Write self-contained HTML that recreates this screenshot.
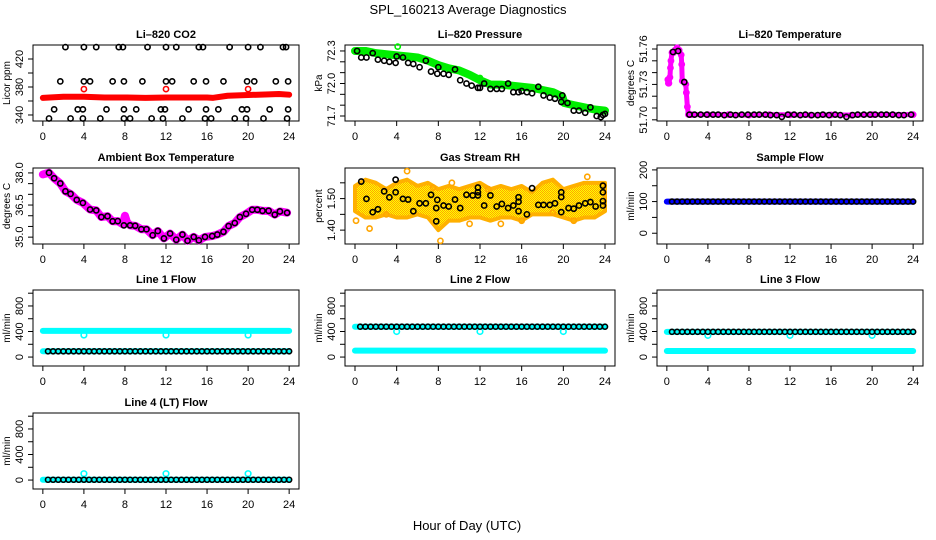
<!DOCTYPE html>
<html><head><meta charset="utf-8"><style>
html,body{margin:0;padding:0;background:#fff}
svg{display:block;font-family:"Liberation Sans",sans-serif}
</style></head><body>
<svg id="chart" width="936" height="540" viewBox="0 0 936 540" xmlns="http://www.w3.org/2000/svg">
<defs>
<pattern id="oy" width="2" height="2" patternUnits="userSpaceOnUse">
<rect width="2" height="2" fill="#ffff00"/><rect width="1" height="1" fill="#ffa500"/><rect x="1" y="1" width="1" height="1" fill="#ffa500"/>
</pattern>
</defs>
<text x="468" y="14" font-size="13" text-anchor="middle">SPL_160213  Average Diagnostics</text>
<text x="467" y="530" font-size="13" text-anchor="middle">Hour of Day (UTC)</text>
</svg>
<script>
// ---------- data ----------
const xTicks = [0,4,8,12,16,20,24];
// CO2
const co2BlackHours = [2.2,4,5.2,7.4,7.8,10.2,12,13,15.2,15.6,18.2,20,21.2,23.4,23.7,
 1.7,4,4.6,6.8,7.9,9.7,12,12.6,14.7,15.9,17.6,19.9,20.6,22.7,23.9,
 1.1,3.4,3.9,6.2,7.9,9.1,11.5,11.9,14.2,15.9,17.1,19.4,19.9,22.1,23.9,
 0.6,2.7,3.9,5.6,7.9,8.5,10.6,11.7,13.6,15.8,16.4,18.7,19.8,21.5,23.8];
const co2BlackVals = [437,437,437,437,437,437,437,437,437,437,437,437,437,437,437,
 388,388,388,388,388,388,388,388,388,388,388,388,388,388,388,
 348,348,348,348,348,348,348,348,348,348,348,348,348,348,348,
 335,335,335,335,335,335,335,335,335,335,335,335,335,335,335];
const co2RedHours = [0,2,4,6,8,10,12,14,16,16.6,18,20,22,23,24];
const co2RedVals = [364.5,366,366,365,365,364.5,365,365,365,364.5,367.5,368.5,369.5,370,369];
const co2RedSpikeHours = [4,12,20];
const co2RedSpikeVals = [377,377,377];
// Pressure
const prGreenHours = [0,1,2,3,4,5,6,7,8,9,10,11,12,13,14,15,16,17,18,19,19.9,20.1,21,22,23,24];
const prGreenVals = [72.30,72.30,72.28,72.27,72.26,72.25,72.24,72.21,72.17,72.14,72.12,72.08,72.03,71.99,71.99,71.98,71.97,71.96,71.94,71.92,71.88,71.82,71.80,71.78,71.76,71.75];
const prGreenOutHours = [4.1,12];
const prGreenOutVals = [72.34,72.05];
const prBlackHours = [0.2,0.6,1.1,1.7,2.2,2.8,3.3,3.9,4,4.6,5.1,5.6,6.2,6.8,7.3,7.9,8,8.5,9,9.6,10.1,10.7,11.2,11.8,12,12.4,13,13.6,14.1,14.7,15.2,15.7,16,16.5,17,17.6,18.1,18.7,19.2,19.8,19.9,20.4,21,21.5,22.1,22.6,23.2,23.6,23.8,24];
const prBlackVals = [72.30,72.24,72.24,72.28,72.22,72.21,72.20,72.19,72.25,72.24,72.19,72.18,72.15,72.21,72.11,72.09,72.15,72.09,72.08,72.13,72.03,72.00,71.98,71.96,71.96,72.00,71.95,71.95,71.95,72.00,71.92,71.92,71.93,71.92,71.91,71.97,71.89,71.87,71.86,71.83,71.89,71.82,71.75,71.75,71.73,71.78,71.70,71.69,71.71,71.72];
// Li-820 temperature
const tmMagHours = [0.1,0.15,0.2,0.3,0.35,0.4,0.5,0.65,0.8,1.0,1.2,1.4,1.45,1.5,1.7,1.85,1.9,2.0,2.1,2.4,4,6,8,10,12,14,16,18,20,22,24];
const tmMagVals = [51.734,51.731,51.731,51.736,51.744,51.750,51.757,51.757,51.759,51.761,51.759,51.755,51.747,51.733,51.732,51.730,51.723,51.711,51.7045,51.7044,51.7044,51.7044,51.7040,51.7044,51.7042,51.7040,51.7042,51.7040,51.7044,51.7044,51.7044];
const tmBlackHours = [0.6,1.1,1.7,2.2,2.7,3.3,3.9,4.5,5,5.6,6.2,6.7,7.3,7.9,8.5,9,9.6,10.1,10.7,11.2,11.8,12.4,13,13.5,14.1,14.7,15.2,15.8,16.4,16.9,17.5,18.1,18.6,19.2,19.8,20.3,20.9,21.4,22,22.6,23.1,23.8];
const tmBlackVals = [51.7575,51.7583,51.732,51.7044,51.7044,51.7044,51.7044,51.7044,51.7044,51.7040,51.7044,51.7040,51.7044,51.7044,51.7044,51.7044,51.7044,51.7040,51.7040,51.7025,51.7044,51.7044,51.7040,51.7044,51.7040,51.7040,51.7044,51.7040,51.7044,51.7040,51.7025,51.7040,51.7044,51.7044,51.7044,51.7044,51.7044,51.7044,51.7044,51.7040,51.7040,51.7044];
// Ambient box temperature
const abHours = [0.6,1.1,1.7,2.2,2.7,3.3,3.9,4.6,5.2,5.7,6.3,6.8,7.3,7.9,8.5,9,9.6,10.1,10.7,11.2,11.8,12.4,13,13.6,14.1,14.7,15.2,15.8,16.5,17,17.6,18.1,18.7,19.2,19.8,20.4,20.9,21.4,22,22.6,23.1,23.8];
const abVals = [38.01,37.75,37.51,37.14,37.02,36.74,36.60,36.29,36.25,35.94,35.98,35.74,35.75,35.55,35.55,35.53,35.37,35.37,35.09,35.29,34.94,35.17,34.88,35.12,34.83,35.01,34.85,35.01,35.05,35.12,35.25,35.52,35.66,35.94,36.09,36.28,36.28,36.23,36.23,36.05,36.20,36.14];
const abMagHours = [0,0.6,1.1,1.7,2.2,2.7,3.3,3.9,4.6,5.2,5.7,6.3,6.8,7.3,7.8,8.0,8.2,8.5,9,9.6,10.1,10.7,11.2,11.8,12.4,13,13.6,14.1,14.7,15.2,15.8,16.5,17,17.6,18.1,18.7,19.2,19.8,20.4,20.9,21.4,22,22.6,23.1,23.8];
const abMagVals = [37.93,38.01,37.75,37.51,37.14,37.02,36.74,36.60,36.29,36.25,35.94,35.98,35.74,35.75,35.60,36.00,35.70,35.55,35.53,35.37,35.37,35.09,35.29,34.94,35.17,34.88,35.12,34.83,35.01,34.85,35.01,35.05,35.12,35.25,35.52,35.66,35.94,36.09,36.28,36.28,36.23,36.23,36.05,36.20,36.14];
// Gas stream RH
const rhBandHours = [0,1,2,3,4,5,6,7,8,9,10,11,12,13,14,15,16,17,18,19,20,21,22,23,24];
const rhUpper = [1.54,1.56,1.55,1.53,1.55,1.56,1.54,1.55,1.53,1.54,1.53,1.54,1.55,1.53,1.54,1.53,1.54,1.52,1.55,1.56,1.53,1.54,1.55,1.55,1.55];
const rhLower = [1.46,1.44,1.44,1.45,1.44,1.44,1.45,1.44,1.40,1.43,1.43,1.44,1.44,1.43,1.44,1.44,1.43,1.45,1.45,1.45,1.44,1.43,1.44,1.44,1.46];
const rhOutHours = [5,1.4,8.2,22.3,7.5,21,0.1,16,3,11,14,19,9.3,12.8];
const rhOutVals = [1.587,1.405,1.366,1.569,1.535,1.43,1.43,1.43,1.45,1.42,1.42,1.455,1.55,1.53];
const rhBlackHours = [0.6,1.1,1.7,2.2,2.8,3.3,3.9,3.9,4.6,5.1,5.6,6.2,6.8,7.3,7.9,7.8,7.8,8.5,9,9.6,10.1,10.7,11.3,11.8,11.8,11.8,12.4,13,13.6,14.1,14.7,15.2,15.7,15.7,15.7,16.5,17,17.6,18.1,18.7,19.2,19.8,19.8,19.8,20.5,21,21.5,22.1,22.6,23.1,23.8,23.8,23.8,23.8];
const rhBlackVals = [1.554,1.499,1.457,1.466,1.523,1.504,1.520,1.560,1.499,1.497,1.460,1.485,1.485,1.512,1.496,1.470,1.428,1.478,1.475,1.497,1.470,1.512,1.510,1.520,1.535,1.510,1.478,1.510,1.475,1.483,1.470,1.478,1.504,1.490,1.460,1.450,1.533,1.480,1.480,1.480,1.485,1.505,1.520,1.457,1.470,1.468,1.478,1.485,1.489,1.475,1.541,1.520,1.492,1.478];
// Flows
const flowHours = [0.5,1,1.5,2,2.5,3,3.5,4,4.5,5,5.5,6,6.5,7,7.5,8,8.5,9,9.5,10,10.5,11,11.5,12,12.5,13,13.5,14,14.5,15,15.5,16,16.5,17,17.5,18,18.5,19,19.5,20,20.5,21,21.5,22,22.5,23,23.5,24];
const sampleBlack = [100,100,100,100,100,100,100,100,100,100,100,100,100,100,100,100,100,100,100,100,100,100,100,100,100,100,100,100,100,100,100,100,100,100,100,100,100,100,100,100,100,100,100,100,100,100,100,100];
const l1Black = [90,90,90,90,90,90,90,90,90,90,90,90,90,90,90,90,90,90,90,90,90,90,90,90,90,90,90,90,90,90,90,90,90,90,90,90,90,90,90,90,90,90,90,90,90,90,90,90];
const l2Black = [475,475,475,475,475,475,475,475,475,475,475,475,475,475,475,475,475,475,475,475,475,475,475,475,475,475,475,475,475,475,475,475,475,475,475,475,475,475,475,475,475,475,475,475,475,475,475,475];
const l3Black = [395,395,395,395,395,395,395,395,395,395,395,395,395,395,395,395,395,395,395,395,395,395,395,395,395,395,395,395,395,395,395,395,395,395,395,395,395,395,395,395,395,395,395,395,395,395,395,395];
const l4Black = [5,5,5,5,5,5,5,5,5,5,5,5,5,5,5,5,5,5,5,5,5,5,5,5,5,5,5,5,5,5,5,5,5,5,5,5,5,5,5,5,5,5,5,5,5,5,5,5];
const bandHours = [0,24];
const sampleBlue = [100,100];
const l1CyanHigh = [410,410];
const l1CyanLow = [90,90];
const l2CyanHigh = [475,475];
const l2CyanLow = [100,100];
const l3CyanHigh = [395,395];
const l3CyanLow = [95,95];
const l4Cyan = [5,5];
const dipHours = [4,12,20];
const l1Dips = [345,345,345];
const l2Dips = [400,400,400];
const l3Dips = [340,340,340];
const l4Dips = [100,100,100];

// ---------- drawing ----------
const NS = "http://www.w3.org/2000/svg";
const svg = document.getElementById('chart');
const cols = [[33,299],[345,615],[657,923]];
const rows = [[45,121],[168,244],[290,366],[413,489]];
function el(tag, parent){ const e=document.createElementNS(NS,tag); parent.appendChild(e); return e; }

function makePanel(col,row,title,ylab,dom,ticks,labels,key){
  const [x0,x1]=cols[col], [y0,y1]=rows[row];
  const g=el('g',svg);
  
  
  const sx=h=>x0+(h+0.96)/25.92*(x1-x0);
  const sy=v=>y1-(v-dom[0])/(dom[1]-dom[0])*(y1-y0);
  const box=el('rect',g);
  box.setAttribute('x',x0);box.setAttribute('y',y0);box.setAttribute('width',x1-x0);box.setAttribute('height',y1-y0);
  box.setAttribute('fill','none');box.setAttribute('stroke','#000');
  
  
  const t=el('text',g);
  t.textContent=title;
  t.setAttribute('x',(x0+x1)/2);t.setAttribute('y',y0-7);t.setAttribute('font-size','11');t.setAttribute('font-weight','bold');t.setAttribute('text-anchor','middle');
  
  
  // x axis
  xTicks.forEach(h=>{
    const l=el('line',g);
    l.setAttribute('x1',sx(h));l.setAttribute('x2',sx(h));l.setAttribute('y1',y1);l.setAttribute('y2',y1+5);l.setAttribute('stroke','#000');
    
    
    const tx=el('text',g);
    tx.textContent=h;
    tx.setAttribute('x',sx(h));tx.setAttribute('y',y1+19);tx.setAttribute('font-size','11');tx.setAttribute('text-anchor','middle');
    
    
  });
  // y axis
  ticks.forEach(v=>{
    const l=el('line',g);
    l.setAttribute('x1',x0);l.setAttribute('x2',x0-5);l.setAttribute('y1',sy(v));l.setAttribute('y2',sy(v));l.setAttribute('stroke','#000');
    
    
  });
  labels.forEach(v=>{
    const tx=el('text',g);
    tx.textContent=v;
    const yy=sy(parseFloat(v));
    tx.setAttribute('x',x0-10);tx.setAttribute('y',yy);tx.setAttribute('font-size','11');tx.setAttribute('text-anchor','middle');
    tx.setAttribute('transform','rotate(-90 '+(x0-10)+' '+yy+')');
    
    
  });
  const yl=el('text',g);
  yl.textContent=ylab;
  const ym=(y0+y1)/2;
  yl.setAttribute('x',x0-23);yl.setAttribute('y',ym);yl.setAttribute('font-size','10');yl.setAttribute('text-anchor','middle');
  yl.setAttribute('transform','rotate(-90 '+(x0-23)+' '+ym+')');
  
  
  const clip=el('g',g);
  return {g:clip,sx,sy};
}
function band(p,hs,vs,color,w,name){
  const pl=el('polyline',p.g);
  pl.setAttribute('points',hs.map((h,i)=>p.sx(h)+','+p.sy(vs[i])).join(' '));
  pl.setAttribute('fill','none');pl.setAttribute('stroke',color);pl.setAttribute('stroke-width',w);
  pl.setAttribute('stroke-linecap','round');pl.setAttribute('stroke-linejoin','round');
  
  
}
function pts(p,hs,vs,color,r,name,sw){
  hs.forEach((h,i)=>{
    const c=el('circle',p.g);
    c.setAttribute('cx',p.sx(h));c.setAttribute('cy',p.sy(vs[i]));c.setAttribute('r',r);
    c.setAttribute('fill','none');c.setAttribute('stroke',color);c.setAttribute('stroke-width',sw||1.6);
    
    
  });
}
function range(a,b,s){const r=[];for(let v=a;v<=b+1e-9;v+=s)r.push(+v.toFixed(4));return r;}

// Row 1
let p=makePanel(0,0,'Li\u2013820 CO2','Licor ppm',[331.4,440],range(340,420,20),['340','380','420'],'co2');
band(p,co2RedHours,co2RedVals,'#ff0000',6,'co2-red-series');
pts(p,co2RedSpikeHours,co2RedSpikeVals,'#ff0000',2.6,'co2-red-point');
pts(p,co2BlackHours,co2BlackVals,'#000',2.6,'co2-black-point');

p=makePanel(1,0,'Li\u2013820 Pressure','kPa',[71.654,72.355],range(71.7,72.3,0.1),['71.7','72.0','72.3'],'pressure');
band(p,prGreenHours,prGreenVals,'#00ee00',8,'pressure-green-series');
pts(p,prGreenOutHours,prGreenOutVals,'#00ee00',2.6,'pressure-green-point');
pts(p,prBlackHours,prBlackVals,'#000',2.6,'pressure-black-point');

p=makePanel(2,0,'Li\u2013820 Temperature','degrees C',[51.699,51.7634],range(51.70,51.76,0.01),['51.70','51.73','51.76'],'li820-temp');
band(p,tmMagHours,tmMagVals,'#ff00ff',5,'temp-magenta-series');
pts(p,tmMagHours,tmMagVals,'#ff00ff',2.6,'temp-magenta-point');
pts(p,tmBlackHours,tmBlackVals,'#000',2.6,'temp-black-point');

// Row 2
p=makePanel(0,1,'Ambient Box Temperature','degrees C',[34.68,38.23],range(35,38,0.5),['35.0','36.5','38.0'],'ambient-temp');
band(p,abMagHours,abMagVals,'#ff00ff',8,'ambient-magenta-series');
pts(p,abHours,abVals,'#000',2.6,'ambient-black-point');

p=makePanel(1,1,'Gas Stream RH','percent',[1.356,1.597],[1.40,1.45,1.50,1.55],['1.40','1.50'],'rh');
(function(){
  const poly=el('polygon',p.g);
  const up=rhBandHours.map((h,i)=>p.sx(h)+','+p.sy(rhUpper[i]));
  const lo=rhBandHours.map((h,i)=>p.sx(h)+','+p.sy(rhLower[i])).reverse();
  poly.setAttribute('points',up.concat(lo).join(' '));
  poly.setAttribute('fill','url(#oy)');poly.setAttribute('stroke','#ffb000');poly.setAttribute('stroke-width','4');poly.setAttribute('stroke-linejoin','round');
  
  
})();
pts(p,rhOutHours,rhOutVals,'#ffa500',2.6,'rh-orange-point');
pts(p,rhBlackHours,rhBlackVals,'#000',2.6,'rh-black-point');

p=makePanel(2,1,'Sample Flow','ml/min',[-34,206],[0,50,100,150,200],['0','100','200'],'sample-flow');
band(p,bandHours,sampleBlue,'#0000ff',6,'sample-blue-series');
pts(p,flowHours,sampleBlack,'#000',2.5,'sample-black-point');

// Row 3
const fDom=[-140,1050], fTicks=[0,200,400,600,800,1000], fLab=['0','400','800'];
p=makePanel(0,2,'Line 1 Flow','ml/min',fDom,fTicks,fLab,'line1-flow');
band(p,bandHours,l1CyanHigh,'#00ffff',6,'line1-cyan-high');
band(p,bandHours,l1CyanLow,'#00ffff',6,'line1-cyan-low');
pts(p,dipHours,l1Dips,'#00ffff',2.8,'line1-cyan-point');
pts(p,flowHours,l1Black,'#000',2.5,'line1-black-point');

p=makePanel(1,2,'Line 2 Flow','ml/min',fDom,fTicks,fLab,'line2-flow');
band(p,bandHours,l2CyanHigh,'#00ffff',6,'line2-cyan-high');
band(p,bandHours,l2CyanLow,'#00ffff',6,'line2-cyan-low');
pts(p,dipHours,l2Dips,'#00ffff',2.8,'line2-cyan-point');
pts(p,flowHours,l2Black,'#000',2.5,'line2-black-point');

p=makePanel(2,2,'Line 3 Flow','ml/min',fDom,fTicks,fLab,'line3-flow');
band(p,bandHours,l3CyanHigh,'#00ffff',6,'line3-cyan-high');
band(p,bandHours,l3CyanLow,'#00ffff',6,'line3-cyan-low');
pts(p,dipHours,l3Dips,'#00ffff',2.8,'line3-cyan-point');
pts(p,flowHours,l3Black,'#000',2.5,'line3-black-point');

// Row 4
p=makePanel(0,3,'Line 4 (LT) Flow','ml/min',fDom,fTicks,fLab,'line4-flow');
band(p,bandHours,l4Cyan,'#00ffff',6,'line4-cyan-series');
pts(p,dipHours,l4Dips,'#00ffff',2.8,'line4-cyan-point');
pts(p,flowHours,l4Black,'#000',2.5,'line4-black-point');
</script>
</body></html>
